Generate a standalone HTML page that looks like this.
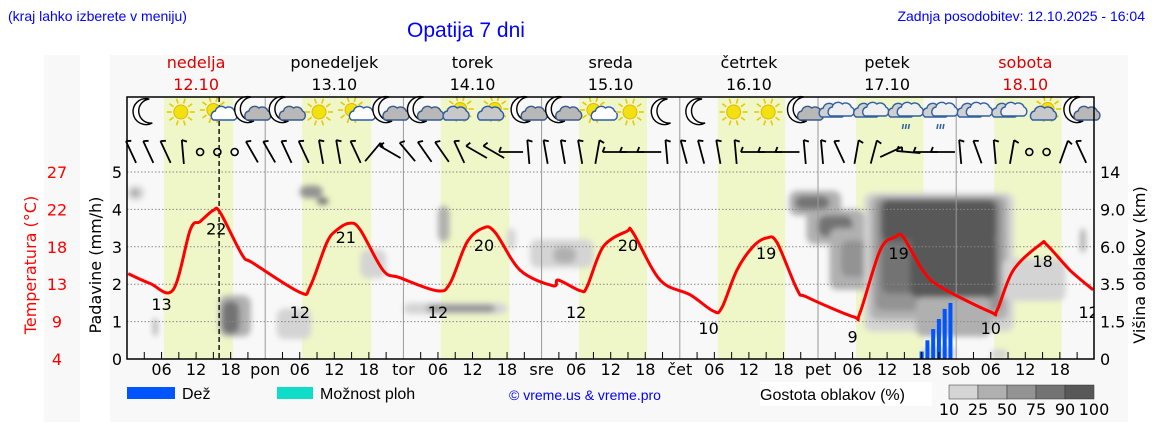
<!DOCTYPE html>
<html><head><meta charset="utf-8"><style>
html,body{margin:0;padding:0;background:#fff;}
svg{display:block;}
.ax{font-family:"DejaVu Sans",sans-serif;font-size:16px;}
.tp{font-family:"Liberation Sans",sans-serif;}
</style></head><body>
<svg id="chart" width="1152" height="443" viewBox="0 0 1152 443" xmlns="http://www.w3.org/2000/svg">
<rect x="110" y="55" width="1018" height="367" fill="#f8f8f8"/>
<rect x="44" y="55" width="36" height="367" fill="#f8f8f8"/>
<text class="tp" x="8" y="21" font-size="14" fill="#0000ff">(kraj lahko izberete v meniju)</text>
<text class="tp" x="466" y="37" font-size="21" fill="#0000ff" text-anchor="middle">Opatija 7 dni</text>
<text class="tp" x="1145" y="21" font-size="14" fill="#0000ff" text-anchor="end">Zadnja posodobitev: 12.10.2025 - 16:04</text>
<defs><filter id="blur" x="-10%" y="-10%" width="120%" height="120%"><feGaussianBlur stdDeviation="3"/></filter>
<clipPath id="plotclip"><rect x="127" y="97" width="967" height="262"/></clipPath></defs>
<g id="bands"></g>
<g clip-path="url(#plotclip)"><g id="clouds" filter="url(#blur)"></g></g>
<g id="grid"></g>
<g id="bars"></g>
<g id="temp" clip-path="url(#plotclip)"></g>
<g id="icons"></g>
<g id="wind"></g>
<g id="axes"></g>
<rect x="127" y="97" width="967" height="262" fill="none" stroke="#000" stroke-width="1.5"/>
<g>
<rect x="127" y="387" width="48" height="12" fill="#0055ff"/>
<text class="tp" x="182" y="399" font-size="16">Dež</text>
<rect x="277" y="387" width="36" height="12" fill="#10ddc8"/>
<text class="tp" x="320" y="399" font-size="16">Možnost ploh</text>
<text class="tp" x="585" y="400" font-size="14" fill="#0000ff" text-anchor="middle">© vreme.us &amp; vreme.pro</text>
<rect x="760" y="382" width="172" height="24" fill="#fff"/>
<text class="tp" x="760" y="400" font-size="16">Gostota oblakov (%)</text>
<g id="cbar"></g>
</g>
</svg>
<script>
// ---- data ----
const dayNames = ["nedelja","ponedeljek","torek","sreda","četrtek","petek","sobota"];
const dayDates = ["12.10","13.10","14.10","15.10","16.10","17.10","18.10"];
const dayAbbr = ["","pon","tor","sre","čet","pet","sob"];
const precipTicks = [0,1,2,3,4,5];
const tempTicks = ["4","9","13","18","22","27"];
const kmTicks = [0,1.5,3.5,6,9,14];
const kmTickLabels = ["0","1.5","3.5","6.0","9.0","14"];
const tempHours = [0.2,4,8,11,12.7,15,16.2,20,21.9,30,31.8,34.7,36.5,38.7,40.5,44.5,47.4,53.8,56.1,59,61.8,63.9,68.3,74,74.9,78.7,79.9,82.7,86.8,87.9,92.6,97.8,101.8,103.3,105.9,108.7,111.1,112.9,116.4,118.1,126.1,127.3,130.8,133.4,134.8,138.2,141.2,149.9,151.1,153.9,158.6,159.8,163.8,167.8];
const tempValues = [14.5,13.3,12.5,19.9,20.9,22.3,22.0,16.8,15.8,12.2,12.9,18.3,19.9,20.7,19.9,14.9,14.0,12.4,13.3,18.3,20.1,19.6,14.9,13.0,13.7,12.4,12.9,17.8,19.7,19.5,13.7,11.9,9.9,10.3,14.9,17.8,18.9,18.3,12.5,11.6,9.2,9.7,17.4,19.0,19.0,14.9,12.9,9.8,10.0,14.9,18.1,18.0,14.9,12.5];
const labelHours = [6,15.5,30,38,54,62,78,87,101,111,126,134,150,159,167];
const labelTemps = [13,22,12,21,12,20,12,20,10,19,9,19,10,18,12];
const labelIsMax = [0,1,0,1,0,1,0,1,0,1,0,1,0,1,0];
const rainHours = [138,139,140,141,142,143];
const rainValues = [0.2,0.5,0.8,1.07,1.34,1.5];
const dayStart = [6.4,6.4,6.5,6.5,6.6,6.6,6.6];
const dayEnd = [18.4,18.4,18.4,18.3,18.3,18.3,18.3];
const iconTypes = ["moon","sun","suncloud","mooncloud","mooncloud","sun","suncloud","mooncloud","mooncloud","suncloudbig","suncloudbig","mooncloud","mooncloud","suncloud","sun","moon","moon","sun","sun","mooncloud","cloud","cloud","rain","rain","cloud","cloud","sunclouds","mooncloud"];
const windAngles = [25,25,25,5,null,null,null,30, 30,25,25,10,10,25,-40,60, 40,35,35,25,60,60,90,5, 10,10,10,-10,90,90,90,5, 15,15,10,5,90,90,90,5, 5,25,-10,-15,-65,85,90,90, 5,20,5,-10,null,null,-20,25];
// cloud blobs: [hourStart, hourEnd, kmLow, kmHigh, densityLevel 0..4]
const cloudBlobs = [
[0,3,10.2,12.2,0],[0.8,2,10.8,11.6,2],
[4.5,5.3,0.9,1.7,1],
[16,21.5,0.9,2.9,1],[16.5,19.5,1.0,2.6,3],
[26,32,0.8,2.2,0],
[30,34,10.5,12.2,2],[33,35,9.6,10.6,3],
[40.5,45,3.9,5.8,0],
[48,66,1.9,2.5,0],[52,64,2.0,2.4,2],
[54,56,6.4,9.5,1],
[66,67.5,5.8,7.5,0],
[70,81,4.6,6.6,0],[74,78,4.9,6,1],
[115,124,8.5,11.5,1],[116,122,9,10.8,3],
[118,128,6.2,9,1],[120,126,6.8,8.5,3],
[122,131,3.2,7.5,1],[124,130,4,6.5,2],
[128,154,1.1,11.2,0],[129,153,1.6,10.8,1],[130,152,2.1,10.5,2],[131,151,3,10.3,3],
[131,151,6.5,10.2,4],[136,151,2.8,6.8,4],
[152,163,2.6,5.2,0],[137,150,0.9,2.8,1],
[165.5,166.5,5.6,7.5,1],
[138,144,0,0.5,0],[150,153,0,0.4,0]
];
const densityColors = ["#d4d4d4","#b0b0b0","#939393","#737373","#585858"];
const densityLabels = ["10","25","50","75","90","100"];

// ---- helpers ----
const NS = "http://www.w3.org/2000/svg";
const X0 = 127, DAYW = 138.2, YB = 359, GRIDH = 37.4;
function xOf(h){ return X0 + h*DAYW/24; }
function yP(v){ return YB - v*GRIDH; }
function yT(t){ return YB - (t-4)*187/23; }
function yKm(k){
  for(let i=0;i<kmTicks.length-1;i++){
    if(k<=kmTicks[i+1]) return YB - (i + (k-kmTicks[i])/(kmTicks[i+1]-kmTicks[i]))*GRIDH;
  }
  return YB - 5*GRIDH;
}
function mk(tag, attrs, parent, txt){
  const e = document.createElementNS(NS, tag);
  for(const k in attrs) e.setAttribute(k, attrs[k]);
  if(txt!==undefined) e.textContent = txt;
  parent.appendChild(e); return e;
}
const $ = id => document.getElementById(id);

dayStart.forEach((s,d)=>{
  const r = mk("rect",{x:xOf(d*24+s),y:97,width:xOf(d*24+dayEnd[d])-xOf(d*24+s),height:262,fill:"#eff7c8"},$("bands"));
  
  
});
cloudBlobs.forEach(b=>{
  const r = mk("rect",{x:xOf(b[0]),y:yKm(b[3]),width:xOf(b[1])-xOf(b[0]),height:yKm(b[2])-yKm(b[3]),rx:8,fill:densityColors[b[4]]},$("clouds"));
  
  
});
precipTicks.slice(1).forEach(v=>{
  const l = mk("line",{x1:127,x2:1094,y1:yP(v),y2:yP(v),stroke:"#888","stroke-width":1,"stroke-dasharray":"1.5,2"},$("grid"));
  
  
});
for(let d=1; d<7; d++){
  const l = mk("line",{x1:xOf(d*24),x2:xOf(d*24),y1:97,y2:359,stroke:"#999","stroke-width":1},$("grid"));
  
  
}
const now = mk("line",{x1:xOf(16),x2:xOf(16),y1:97,y2:359,stroke:"#222","stroke-width":1.6,"stroke-dasharray":"5,3"},$("grid"));


rainHours.forEach((h,i)=>{
  const r = mk("rect",{x:xOf(h)-2,y:yP(rainValues[i]),width:4,height:YB-yP(rainValues[i]),fill:"#0055ff"},$("bars"));
  
  
});
// smooth temperature line (Catmull-Rom)
const P = tempHours.map((h,i)=>[xOf(h), yT(tempValues[i])]);
let d = "M"+P[0][0].toFixed(1)+","+P[0][1].toFixed(1);
for(let i=0;i<P.length-1;i++){
  const p0=P[Math.max(0,i-1)], p1=P[i], p2=P[i+1], p3=P[Math.min(P.length-1,i+2)];
  const c1=[p1[0]+(p2[0]-p0[0])/6, p1[1]+(p2[1]-p0[1])/6];
  const c2=[p2[0]-(p3[0]-p1[0])/6, p2[1]-(p3[1]-p1[1])/6];
  d += ` C${c1[0].toFixed(1)},${c1[1].toFixed(1)} ${c2[0].toFixed(1)},${c2[1].toFixed(1)} ${p2[0].toFixed(1)},${p2[1].toFixed(1)}`;
}
const tl = mk("path",{d:d,fill:"none",stroke:"#ff0000","stroke-width":3,"stroke-linejoin":"round"},$("temp"));


labelHours.forEach((h,i)=>{
  const t = labelTemps[i];
  const y = labelIsMax[i] ? yT(t)+22 : yT(t)+24;
  const e = mk("text",{class:"ax",x:xOf(h),y:y,"text-anchor":"middle",fill:"#000","font-size":"17"},$("temp"),String(t));
  
  
});
const ax = $("axes");
precipTicks.forEach((v,i)=>{
  const a = mk("text",{class:"ax",x:122,y:yP(v)+6,"text-anchor":"end"},ax,String(v));
  
  
  const b = mk("text",{class:"ax",x:57,y:yP(v)+6,"text-anchor":"middle",fill:"#ff0000"},ax,tempTicks[i]);
  
  
  const c = mk("text",{class:"ax",x:1100,y:yP(v)+6},ax,kmTickLabels[i]);
  
  
});
const t1 = mk("text",{class:"ax",transform:"translate(36,265) rotate(-90)","text-anchor":"middle",fill:"#ff0000","font-size":"19"},ax,"Temperatura (°C)");


const t2 = mk("text",{class:"ax",transform:"translate(101,265) rotate(-90)","text-anchor":"middle","font-size":"19"},ax,"Padavine (mm/h)");


const t3 = mk("text",{class:"ax",transform:"translate(1145,265) rotate(-90)","text-anchor":"middle","font-size":"19"},ax,"Višina oblakov (km)");


for(let dd=0; dd<7; dd++){
  const cx = xOf(dd*24+12), red = (dd===0||dd===6);
  const n = mk("text",{class:"ax",x:cx,y:68,"text-anchor":"middle",fill:red?"#dd0000":"#000","font-size":"17"},ax,dayNames[dd]);
  
  
  const dt = mk("text",{class:"ax",x:cx,y:90,"text-anchor":"middle",fill:red?"#dd0000":"#000","font-size":"17"},ax,dayDates[dd]);
  
  
  for(let h=3; h<24; h+=3){
    const tk = mk("line",{x1:xOf(dd*24+h),x2:xOf(dd*24+h),y1:359,y2:352,stroke:"#000"},ax);
    
    
  }
  [6,12,18].forEach(h=>{
    const l = mk("text",{class:"ax",x:xOf(dd*24+h),y:375,"text-anchor":"middle"},ax,String(h).padStart(2,"0"));
    
    
  });
  if(dayAbbr[dd]){
    const l = mk("text",{class:"ax",x:xOf(dd*24),y:375,"text-anchor":"middle"},ax,dayAbbr[dd]);
    
    
  }
}
windAngles.forEach((a,i)=>{
  const cx = xOf(i*3)+4, cy = 152;
  if(a===null){
    const c = mk("circle",{cx:cx,cy:cy,r:3.5,fill:"none",stroke:"#000","stroke-width":1.6},$("wind"));
    
    
    return;
  }
  const g = mk("g",{transform:`translate(${cx},${cy}) rotate(${-a})`},$("wind"));
  
  
  mk("line",{x1:0,y1:-12,x2:0,y2:12,stroke:"#000","stroke-width":1.8},g);
  mk("line",{x1:0,y1:-12,x2:5,y2:-10,stroke:"#000","stroke-width":1.8},g);
});
function sun(g,x,y,r){
  for(let k=0;k<10;k++){const an=k*Math.PI/5;mk("line",{x1:x+Math.cos(an)*(r+2),y1:y+Math.sin(an)*(r+2),x2:x+Math.cos(an)*(r+7),y2:y+Math.sin(an)*(r+7),stroke:"#e8c800","stroke-width":1.6},g);}
  mk("circle",{cx:x,cy:y,r:r,fill:"#f2e010",stroke:"#e0b800"},g);
}
function moon(g,x,y){ mk("path",{d:`M${x+3},${y-13} A13,13 0 1,0 ${x+6},${y+11} A11,11 0 0,1 ${x+3},${y-13}Z`,fill:"#fff",stroke:"#000","stroke-width":1.4},g); }
function cloud(g,x,y,s,fill,stroke){
  mk("path",{d:`M${x-10*s},${y+5*s} a5,5 0 0,1 2,-9 a6,6 0 0,1 10,-3 a6,6 0 0,1 9,3 a5,5 0 0,1 0,9 Z`,fill:fill,stroke:stroke,"stroke-width":1.4},g);
}
iconTypes.forEach((t,i)=>{
  const x = xOf(i*6+3)+2, y = 112;
  const g = mk("g",{},$("icons"));
  
  
  if(t==="moon") moon(g,x,y);
  if(t==="mooncloud"){ moon(g,x-2,y-2); cloud(g,x+5,y+4,0.8,"#b8b8b8","#3a5a8a"); }
  if(t==="sun") sun(g,x,y,7);
  if(t==="suncloud"){ sun(g,x-2,y-2,6.5); cloud(g,x+6,y+4,0.8,"#fff","#2a5ab0"); }
  if(t==="suncloudbig"||t==="sunclouds"){ sun(g,x+3,y-3,6.5); cloud(g,x-2,y+3,1,"#c8c8c8","#2a5ab0"); }
  if(t==="cloud"||t==="rain"){ cloud(g,x-6,y,1,"#d0d0d0","#3060a0"); cloud(g,x+3,y-1,1,"#f0f0f0","#3060a0"); }
  if(t==="rain"){ for(let k=0;k<3;k++) mk("line",{x1:x-3+k*3,y1:y+12,x2:x-4+k*3,y2:y+17,stroke:"#3060a0","stroke-width":1.5},g); }
});
densityColors.forEach((c,i)=>{
  const r = mk("rect",{x:949+i*29,y:385,width:29,height:14,fill:c,stroke:"#333","stroke-width":0.5},$("cbar"));
  
  
});
densityLabels.forEach((l,i)=>{
  const e = mk("text",{class:"ax",x:949+i*29,y:415,"text-anchor":"middle","font-size":"14"},$("cbar"),l);
  
  
});
</script>
</body></html>
